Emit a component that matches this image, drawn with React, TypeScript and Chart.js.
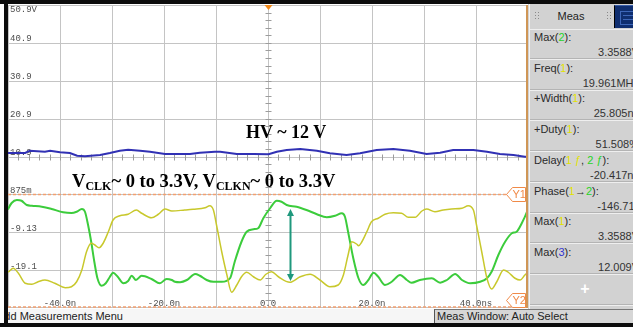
import React, { useEffect, useRef } from 'react';
import { Chart, registerables } from 'chart.js';

Chart.register(...registerables);

// ---- Time base: 10 ns/div, 10 divisions ----
const timeGrid = [-50, -40, -30, -20, -10, 0, 10, 20, 30, 40, 50];
const timeLabelValues = [-40, -20, 0, 20, 40];
const timeLabels = ['-40.0n', '-20.0n', '0.0', '20.0n', '40.0ns'];

// ---- Vertical grid (channel 3, 10 V/div) ----
const voltMin = -29.1;
const voltMax = 50.9;
const voltCenter = 10.9;
const voltGrid = [-29.1, -19.1, -9.13, 0.875, 10.9, 20.9, 30.9, 40.9, 50.9];
const voltLabelValues = [50.9, 40.9, 30.9, 20.9, 10.9, 0.875, -9.13, -19.1];
const voltLabels = ['50.9V', '40.9', '30.9', '20.9', '10.9', '875m', '-9.13', '-19.1'];

// ---- Clock channels share their own volt scale ----
const clkMin = -1.04;
const clkMax = 11.08;

// Channel 3: HV supply (V) vs time (ns)
const hvTime = [-50, -46.7, -45.8, -42.9, -41.9, -40.0, -38.1, -36.7, -35.2, -32.3,
  -30.4, -28.5, -26.9, -24.6, -22.7, -19.8, -15.0, -13.1, -10.2, -9.2,
  -6.0, -2.8, 0.1, 1.7, 3.6, 6.2, 9.4, 11.9, 15.1, 17.7,
  20.9, 24.1, 27.3, 30.5, 33.1, 35.6, 39.5, 42.1, 44.6, 47.2,
  49.4, 50];
const hvVolt = [11.82, 11.82, 12.43, 12.17, 12.43, 12.01, 11.82, 11.11, 10.95, 11.30,
  11.82, 12.43, 12.70, 12.43, 12.17, 11.56, 11.56, 11.90, 12.17, 12.17,
  11.56, 11.56, 11.48, 12.17, 12.62, 12.88, 12.43, 11.74, 11.30, 11.74,
  12.62, 12.88, 12.43, 11.56, 11.90, 12.62, 12.62, 12.17, 11.56, 11.30,
  10.85, 10.85];

// Channel 1 (yellow) clock
const ch1Time = [-50, -49.9, -49.0, -48.0, -46.7, -45.4, -44.2, -42.9, -41.0, -39.0,
  -37.8, -36.8, -35.8, -34.9, -34.0, -33.3, -32.5, -31.7, -30.7, -29.8,
  -28.5, -26.9, -25.3, -24.3, -22.4, -21.1, -19.8, -18.5, -16.0, -14.4,
  -12.1, -11.2, -10.5, -9.9, -8.9, -7.9, -7.0, -6.0, -5.1, -4.1,
  -2.8, -1.5, -0.4, 0.7, 2.0, 4.2, 6.2, 8.1, 10.0, 11.9,
  13.5, 14.5, 15.4, 16.1, 17.1, 17.4, 18.0, 19.0, 19.9, 21.2,
  22.5, 24.1, 25.7, 27.0, 28.3, 29.6, 30.5, 32.1, 33.7, 35.3,
  37.3, 38.5, 39.5, 40.1, 41.1, 42.1, 43.0, 44.0, 45.3, 46.2,
  47.5, 48.5, 49.4, 50];
const ch1Volt = [0.40, 0.41, 0.55, 0.35, -0.05, -0.09, 0.01, 0.08, -0.05, -0.23,
  -0.19, 0.01, 0.48, 1.21, 1.55, 1.48, 1.37, 1.55, 2.01, 2.48,
  2.65, 2.71, 2.88, 2.75, 2.57, 2.71, 2.92, 2.84, 2.88, 2.91,
  2.97, 3.05, 2.88, 2.28, 1.21, 0.28, -0.41, -0.12, 0.21, 0.39,
  0.21, 0.08, 0.31, 0.41, 0.21, -0.01, 0.21, 0.31, 0.08, -0.19,
  -0.12, 0.28, 1.08, 1.61, 1.51, 1.45, 1.59, 2.01, 2.41, 2.55,
  2.71, 2.77, 2.75, 2.59, 2.59, 2.84, 2.92, 2.81, 2.88, 2.92,
  2.95, 3.05, 2.88, 2.28, 1.21, 0.15, -0.28, 0.01, 0.48, 0.39,
  0.15, 0.08, 0.28, 0.40];

// Channel 2 (green) clock
const ch2Time = [-50, -49.9, -49.3, -48.3, -47.4, -46.4, -45.4, -43.5, -41.6, -39.4,
  -37.8, -36.8, -35.8, -35.2, -34.6, -34.0, -33.4, -32.8, -32.0, -31.2,
  -30.4, -29.8, -28.9, -27.8, -26.9, -26.2, -25.4, -24.3, -22.4, -20.8,
  -19.5, -18.5, -17.9, -16.9, -15.6, -14.0, -13.1, -11.8, -10.5, -8.9,
  -7.3, -6.4, -5.1, -4.1, -2.8, -1.9, -0.9, 0.4, 1.7, 2.6,
  3.6, 5.5, 7.4, 9.4, 11.3, 12.9, 14.2, 14.8, 15.4, 16.4,
  17.4, 18.3, 19.3, 20.3, 21.2, 22.5, 23.8, 25.4, 26.7, 27.6,
  29.2, 31.5, 33.1, 34.4, 36.0, 37.3, 38.9, 40.8, 42.1, 43.0,
  44.3, 45.6, 46.9, 47.8, 48.8, 49.8, 50];
const ch2Volt = [2.90, 2.95, 3.16, 3.28, 3.25, 3.08, 3.05, 3.01, 2.92, 2.79,
  2.76, 2.81, 2.92, 2.81, 2.28, 1.61, 0.81, 0.15, -0.15, -0.05,
  0.21, 0.37, 0.21, -0.05, 0.04, 0.25, 0.08, 0.25, 0.12, -0.05,
  0.12, 0.08, 0.01, -0.01, 0.08, 0.32, 0.25, 0.08, 0.01, 0.01,
  0.15, 0.81, 1.61, 2.01, 2.11, 2.15, 2.55, 2.95, 3.25, 3.21,
  3.08, 3.01, 2.88, 2.71, 2.59, 2.65, 2.75, 2.61, 2.01, 0.95,
  0.15, -0.12, 0.08, 0.37, 0.21, -0.12, 0.01, 0.28, 0.08, -0.03,
  0.08, 0.15, -0.03, 0.08, 0.32, 0.08, -0.05, 0.01, 0.15, 0.41,
  1.08, 1.61, 1.95, 2.01, 2.35, 2.81, 2.95];

// Amplitude marker on the green clock (ns, V)
const arrowTime = 4.2;
const arrowLow = 0.04;
const arrowHigh = 2.92;

// Horizontal cursors on the main scale
const cursorNames = ['Y1', 'Y2'];
const cursorValues = [0.875, -29.1];

// Measurement panel
const measLabels = ['Max({2}):', 'Freq({1}):', '+Width({1}):', '+Duty({1}):', 'Delay({1 ƒ}, {2 ƒ}):', 'Phase({1}→{2}):', 'Max({1}):', 'Max({3}):'];
const measValues = ['3.3588V', '19.961MHz', '25.805ns', '51.508%', '-20.417ns', '-146.71°', '3.3588V', '12.009V'];

const chanColors: Record<string, string> = { '1': '#e2e200', '2': '#27d427', '3': '#3434d0' };

const GREEN = '#3ccc3c';
const YELLOW = '#c8c82c';
const BLUE = '#3131b4';
const ORANGE = '#f08a48';

const pts = (ts: number[], vs: number[]) => ts.map((t, i) => ({ x: t, y: vs[i] }));

const scopeOverlay = {
  id: 'scopeOverlay',
  beforeDatasetsDraw(chart: any) {
    const { ctx, chartArea, scales } = chart;
    const { left, top, right, bottom } = chartArea;
    const x = scales.x;
    const y = scales.y;
    ctx.save();

    // graticule
    ctx.strokeStyle = '#c4c4c4';
    ctx.lineWidth = 1;
    ctx.beginPath();
    for (const t of timeGrid) {
      const px = Math.min(right - 0.5, Math.max(left + 0.5, Math.round(x.getPixelForValue(t)) + 0.5));
      ctx.moveTo(px, top);
      ctx.lineTo(px, bottom);
    }
    for (const v of voltGrid) {
      const py = Math.min(bottom - 0.5, Math.max(top + 0.5, Math.round(y.getPixelForValue(v)) + 0.5));
      ctx.moveTo(left, py);
      ctx.lineTo(right, py);
    }
    ctx.stroke();

    // minor ticks on the centre axes
    const cx = Math.round(x.getPixelForValue(0)) + 0.5;
    const cy = Math.round(y.getPixelForValue(voltCenter)) + 0.5;
    ctx.strokeStyle = '#9c9c9c';
    ctx.beginPath();
    for (let i = 1; i < 40; i++) {
      const py = Math.round(top + (i * (bottom - top)) / 40) + 0.5;
      ctx.moveTo(cx - 3, py);
      ctx.lineTo(cx + 3, py);
    }
    for (let i = 1; i < 50; i++) {
      const px = Math.round(left + (i * (right - left)) / 50) + 0.5;
      ctx.moveTo(px, cy - 3);
      ctx.lineTo(px, cy + 3);
    }
    ctx.stroke();

    // cursors
    ctx.strokeStyle = '#f2a070';
    ctx.lineWidth = 1.5;
    ctx.setLineDash([3, 2]);
    ctx.beginPath();
    cursorValues.forEach((v) => {
      const py = Math.min(bottom - 1, Math.max(top + 1, y.getPixelForValue(v)));
      ctx.moveTo(left, py);
      ctx.lineTo(right, py);
    });
    ctx.stroke();
    ctx.setLineDash([]);

    // scale labels
    ctx.font = '9px "Liberation Mono", "DejaVu Sans Mono", monospace';
    ctx.fillStyle = '#4e4e4e';
    ctx.textAlign = 'left';
    ctx.textBaseline = 'middle';
    voltLabelValues.forEach((v, i) => {
      const py = y.getPixelForValue(v);
      const ly = py - 4 < top + 5 ? py + 5 : py - 4;
      ctx.fillText(voltLabels[i], left + 2, ly);
    });
    ctx.textAlign = 'center';
    timeLabelValues.forEach((t, i) => {
      ctx.fillText(timeLabels[i], x.getPixelForValue(t), bottom - 4.5);
    });

    // trigger position marker
    ctx.fillStyle = '#f08818';
    ctx.beginPath();
    ctx.moveTo(cx - 4, top);
    ctx.lineTo(cx + 4, top);
    ctx.lineTo(cx, top + 5);
    ctx.closePath();
    ctx.fill();
    ctx.restore();
  },
  afterDatasetsDraw(chart: any) {
    const { ctx, chartArea, scales } = chart;
    const { top, right, bottom } = chartArea;
    const x = scales.x;
    const y = scales.y;
    const yc = scales.yClk;
    ctx.save();

    // amplitude arrow
    const ax = Math.round(x.getPixelForValue(arrowTime)) + 0.5;
    const yTop = yc.getPixelForValue(arrowHigh);
    const yBot = yc.getPixelForValue(arrowLow);
    ctx.strokeStyle = '#1f987d';
    ctx.fillStyle = '#1f987d';
    ctx.lineWidth = 2;
    ctx.beginPath();
    ctx.moveTo(ax, yTop + 5);
    ctx.lineTo(ax, yBot - 5);
    ctx.stroke();
    ctx.beginPath();
    ctx.moveTo(ax, yTop);
    ctx.lineTo(ax - 3.5, yTop + 7);
    ctx.lineTo(ax + 3.5, yTop + 7);
    ctx.closePath();
    ctx.moveTo(ax, yBot);
    ctx.lineTo(ax - 3.5, yBot - 7);
    ctx.lineTo(ax + 3.5, yBot - 7);
    ctx.closePath();
    ctx.fill();

    // cursor tags
    ctx.lineWidth = 1;
    ctx.font = '11px "Liberation Sans", Arial, sans-serif';
    ctx.textAlign = 'left';
    ctx.textBaseline = 'middle';
    cursorValues.forEach((v, i) => {
      const py = Math.round(Math.min(bottom - 8, Math.max(top + 8, y.getPixelForValue(v)))) + 0.5;
      const x1 = right - 2.5;
      const x0 = right - 21.5;
      ctx.beginPath();
      ctx.moveTo(x0, py);
      ctx.lineTo(x0 + 6, py - 7);
      ctx.lineTo(x1, py - 7);
      ctx.lineTo(x1, py + 7);
      ctx.lineTo(x0 + 6, py + 7);
      ctx.closePath();
      ctx.fillStyle = '#ffffff';
      ctx.fill();
      ctx.strokeStyle = ORANGE;
      ctx.stroke();
      ctx.fillStyle = ORANGE;
      ctx.fillText(cursorNames[i], x0 + 6, py + 0.5);
    });

    // right frame edge
    ctx.fillStyle = '#cf9656';
    ctx.fillRect(right - 2, top, 2, bottom - top);
    ctx.restore();
  },
};

function renderLabel(label: string) {
  return label
    .split(/(\{[^}]*\})/)
    .filter(Boolean)
    .map((p, i) =>
      p.startsWith('{') ? (
        <span key={i} style={{ color: chanColors[p[1]] }}>{p.slice(1, -1)}</span>
      ) : (
        <span key={i}>{p}</span>
      )
    );
}

function GripDots({ left }: { left: number }) {
  const dots = [];
  for (let r = 0; r < 3; r++) {
    for (let c = 0; c < 2; c++) {
      dots.push(
        <div key={`${r}-${c}`} style={{ position: 'absolute', left: left + c * 3, top: 8 + r * 3, width: 1, height: 1, background: '#8a8a8a' }} />
      );
    }
  }
  return <>{dots}</>;
}

export default function App() {
  const canvasRef = useRef<HTMLCanvasElement>(null);

  useEffect(() => {
    const chart = new Chart(canvasRef.current as HTMLCanvasElement, {
      type: 'line',
      data: {
        datasets: [
          {
            label: 'HV',
            data: pts(hvTime, hvVolt),
            yAxisID: 'y',
            borderColor: BLUE,
            borderWidth: 2,
            pointRadius: 0,
            tension: 0,
          },
          {
            label: 'CLKN',
            data: pts(ch1Time, ch1Volt),
            yAxisID: 'yClk',
            borderColor: YELLOW,
            borderWidth: 1.5,
            pointRadius: 0,
            cubicInterpolationMode: 'monotone',
          },
          {
            label: 'CLK',
            data: pts(ch2Time, ch2Volt),
            yAxisID: 'yClk',
            borderColor: GREEN,
            borderWidth: 2,
            pointRadius: 0,
            cubicInterpolationMode: 'monotone',
          },
        ],
      } as any,
      options: {
        animation: false,
        responsive: false,
        maintainAspectRatio: false,
        layout: { padding: 0 },
        plugins: { legend: { display: false }, tooltip: { enabled: false } },
        scales: {
          x: { type: 'linear', min: timeGrid[0], max: timeGrid[timeGrid.length - 1], display: false },
          y: { type: 'linear', min: voltMin, max: voltMax, display: false },
          yClk: { type: 'linear', min: clkMin, max: clkMax, display: false },
        },
      } as any,
      plugins: [scopeOverlay],
    });
    return () => chart.destroy();
  }, []);

  const itemTop0 = 26;
  const itemH = 30.7;
  const panelFont = '11px "Liberation Sans", Arial, sans-serif';

  return (
    <div
      style={{
        position: 'fixed',
        left: 0,
        top: 0,
        width: 633,
        height: 328,
        background: '#ffffff',
        overflow: 'hidden',
        font: panelFont,
        color: '#2a2a2a',
      }}
    >
      <canvas
        ref={canvasRef}
        width={520}
        height={303}
        style={{ position: 'absolute', left: 8, top: 5, width: 520, height: 303 }}
      />

      {/* frame */}
      <div style={{ position: 'absolute', left: 0, top: 0, width: 633, height: 4, background: '#0c0c0c' }} />
      <div style={{ position: 'absolute', left: 4, top: 0, width: 4, height: 323, background: '#0c0c0c' }} />
      <div style={{ position: 'absolute', left: 0, top: 323, width: 633, height: 4, background: '#0c0c0c' }} />

      {/* annotations */}
      <div
        style={{
          position: 'absolute',
          left: 246,
          top: 123,
          font: 'bold 18px "Liberation Serif", "Times New Roman", serif',
          lineHeight: '18px',
          color: '#000',
          whiteSpace: 'nowrap',
        }}
      >
        HV ~ 12 V
      </div>
      <div
        style={{
          position: 'absolute',
          left: 72,
          top: 172,
          font: 'bold 18.5px "Liberation Serif", "Times New Roman", serif',
          lineHeight: '19px',
          color: '#000',
          whiteSpace: 'nowrap',
        }}
      >
        V<span style={{ fontSize: 12, verticalAlign: -3 }}>CLK</span>~ 0 to 3.3V, V
        <span style={{ fontSize: 12, verticalAlign: -3 }}>CLKN</span>~ 0 to 3.3V
      </div>

      {/* measurement panel */}
      <div style={{ position: 'absolute', left: 528, top: 4, width: 105, height: 305, background: '#d2d2d2', overflow: 'hidden' }}>
        <div style={{ position: 'absolute', left: 1, top: 0, width: 1, height: 305, background: '#f4f4f4' }} />
        <GripDots left={7} />
        <GripDots left={79} />
        <div style={{ position: 'absolute', left: 0, width: 86, top: 5, lineHeight: '14px', textAlign: 'center', color: '#222' }}>Meas</div>
        <div style={{ position: 'absolute', left: 86, top: 1, width: 19, height: 22, background: '#0f2e70', borderLeft: '1px solid #000', borderTop: '1px solid #3a5ea8' }}>
          <div style={{ position: 'absolute', left: 5, top: 5, width: 14, height: 12, border: '1px solid #3d66b8' }} />
          <div style={{ position: 'absolute', left: 8, top: 9, width: 11, height: 1, background: '#3d66b8' }} />
          <div style={{ position: 'absolute', left: 8, top: 13, width: 11, height: 1, background: '#3d66b8' }} />
        </div>
        <div style={{ position: 'absolute', left: 2, right: 0, top: itemTop0 - 1, height: 1, background: '#efefef' }} />
        {measLabels.map((lab, i) => {
          const top = itemTop0 + i * itemH;
          return (
            <React.Fragment key={i}>
              <div style={{ position: 'absolute', left: 6, top, lineHeight: '14px', whiteSpace: 'nowrap' }}>{renderLabel(lab)}</div>
              <div style={{ position: 'absolute', right: -6, top: top + 15, lineHeight: '14px', whiteSpace: 'nowrap', textAlign: 'right', color: '#333' }}>
                {measValues[i]}
              </div>
              <div style={{ position: 'absolute', left: 2, right: 0, top: top + 28, height: 1, background: '#b4b4b4' }} />
              <div style={{ position: 'absolute', left: 2, right: 0, top: top + 29, height: 1, background: '#efefef' }} />
            </React.Fragment>
          );
        })}
        <div style={{ position: 'absolute', left: 50, top: 276, width: 14, lineHeight: '16px', textAlign: 'center', font: 'bold 16px "Liberation Sans", Arial, sans-serif', color: '#ffffff' }}>
          +
        </div>
        <div style={{ position: 'absolute', left: 2, right: 0, top: 300, height: 1, background: '#b4b4b4' }} />
        <div style={{ position: 'absolute', left: 2, right: 0, top: 301, height: 1, background: '#efefef' }} />
      </div>

      {/* status line */}
      <div style={{ position: 'absolute', left: 8, top: 309, width: 426, height: 14, background: '#f6f6f6', overflow: 'hidden' }}>
        <div style={{ position: 'absolute', left: -11, top: 0, lineHeight: '14px', whiteSpace: 'nowrap', color: '#222' }}>Add Measurements Menu</div>
      </div>
      <div
        style={{
          position: 'absolute',
          left: 434,
          top: 309,
          width: 199,
          height: 14,
          background: '#d6d6d6',
          borderLeft: '1px solid #555',
          borderTop: '1px solid #777',
          boxSizing: 'border-box',
          overflow: 'hidden',
        }}
      >
        <div style={{ position: 'absolute', left: 2, top: -1, lineHeight: '14px', whiteSpace: 'nowrap', color: '#222' }}>Meas Window: Auto Select</div>
      </div>
    </div>
  );
}
